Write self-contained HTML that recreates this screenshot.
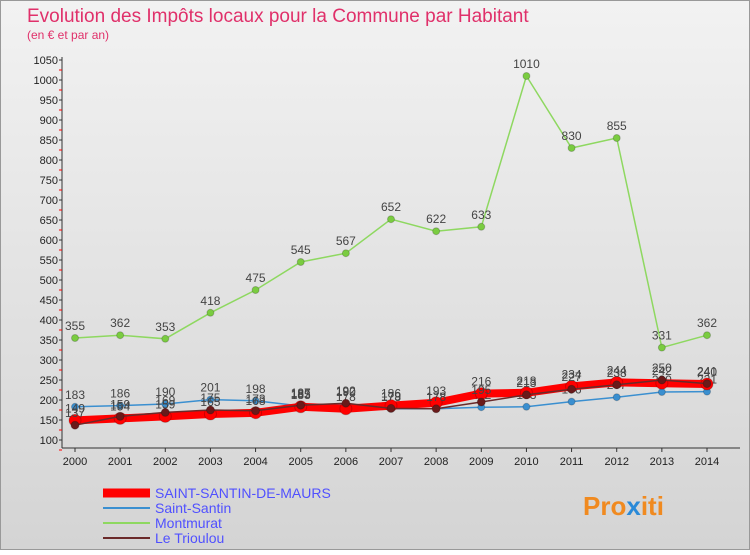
<!DOCTYPE html>
<html><head><meta charset="utf-8"><style>
body{margin:0;width:750px;height:550px;overflow:hidden;font-family:"Liberation Sans",sans-serif}
</style></head><body>
<svg width="750" height="550" xmlns="http://www.w3.org/2000/svg" id="svg">
<defs><linearGradient id="bg" x1="0" y1="0" x2="0" y2="1"><stop offset="0" stop-color="#f2f2f2"/><stop offset="1" stop-color="#d4d4d4"/></linearGradient></defs>
<rect x="0.5" y="0.5" width="749" height="549" fill="url(#bg)" stroke="#999"/>
<text x="27" y="22" font-size="19" fill="#e0306a">Evolution des Impôts locaux pour la Commune par Habitant</text>
<text x="27" y="39" font-size="12" fill="#e0306a">(en € et par an)</text>
<g id="axes"></g><g id="series"></g>
<g font-size="14">
<line x1="103" y1="493" x2="150" y2="493" stroke="#f00" stroke-width="9"/><text x="155" y="498" fill="#5050ff">SAINT-SANTIN-DE-MAURS</text>
<line x1="103" y1="508" x2="150" y2="508" stroke="#3a8fd0" stroke-width="2"/><text x="155" y="513" fill="#5050ff">Saint-Santin</text>
<line x1="103" y1="523" x2="150" y2="523" stroke="#8ed860" stroke-width="2"/><text x="155" y="528" fill="#5050ff">Montmurat</text>
<line x1="103" y1="538" x2="150" y2="538" stroke="#6a2a2a" stroke-width="2"/><text x="155" y="543" fill="#5050ff">Le Trioulou</text>
</g>
<text x="583" y="515" font-size="26" font-weight="bold" fill="#f08a20">Pro<tspan fill="#2a8ad8">x</tspan>iti</text>
</svg>
<script>
const years=["2000","2001","2002","2003","2004","2005","2006","2007","2008","2009","2010","2011","2012","2013","2014"];
const yTicks=[100,150,200,250,300,350,400,450,500,550,600,650,700,750,800,850,900,950,1000,1050];
const montmurat=[355,362,353,418,475,545,567,652,622,633,1010,830,855,331,362];
const saintSantin=[183,186,190,201,198,185,190,178,178,182,183,196,207,220,221];
const leTrioulou=[137,159,169,175,173,187,192,179,178,195,213,227,238,250,241];
const ssdm=[149,154,159,165,168,183,178,186,193,216,218,234,244,242,240];
const NS="http://www.w3.org/2000/svg";
const x=i=>75+i*(707-75)/14;
const y=v=>440-(v-100)*0.4;
function mk(t,a,p){const e=document.createElementNS(NS,t);for(const k in a)e.setAttribute(k,a[k]);p.appendChild(e);return e;}
const ax=document.getElementById('axes');
mk('line',{x1:62,y1:57,x2:62,y2:448,stroke:'#333'},ax);
mk('line',{x1:62,y1:448,x2:740,y2:448,stroke:'#333'},ax);
yTicks.forEach(v=>{const t=mk('text',{x:58,y:y(v)+4,'font-size':11,'text-anchor':'end',fill:'#222'},ax);t.textContent=v;


mk('line',{x1:59,y1:y(v),x2:62,y2:y(v),stroke:'#333'},ax);
mk('line',{x1:59,y1:y(v)+10,x2:62,y2:y(v)+10,stroke:'#f00'},ax);});
years.forEach((yr,i)=>{mk('line',{x1:x(i),y1:448,x2:x(i),y2:452,stroke:'#333'},ax);
const t=mk('text',{x:x(i),y:465,'font-size':11,'text-anchor':'middle',fill:'#222'},ax);t.textContent=yr;

});
const sg=document.getElementById('series');
function draw(name,data,color,w,r,mcol){
 const g=mk('g',{},sg);
 
 
 mk('polyline',{points:data.map((v,i)=>x(i)+','+y(v)).join(' '),fill:'none',stroke:color,'stroke-width':w},g);
 data.forEach((v,i)=>{const c=mk('circle',{cx:x(i),cy:y(v),r:r,fill:mcol,stroke:'#0003'},g);
 
 
 const t=mk('text',{x:x(i),y:y(v)-8,'font-size':12,'text-anchor':'middle',fill:'#444'},g);t.textContent=v;});
}
draw('series-montmurat',montmurat,'#8ed860',1.5,3.5,'#7acc40');
draw('series-saint-santin',saintSantin,'#3a8fd0',1.5,3.5,'#3a8fd0');
draw('series-saint-santin-de-maurs',ssdm,'#f00',8,6,'#f00');
draw('series-le-trioulou',leTrioulou,'#6a2a2a',1.5,4,'#6a1a1a');
</script>
</body></html>
